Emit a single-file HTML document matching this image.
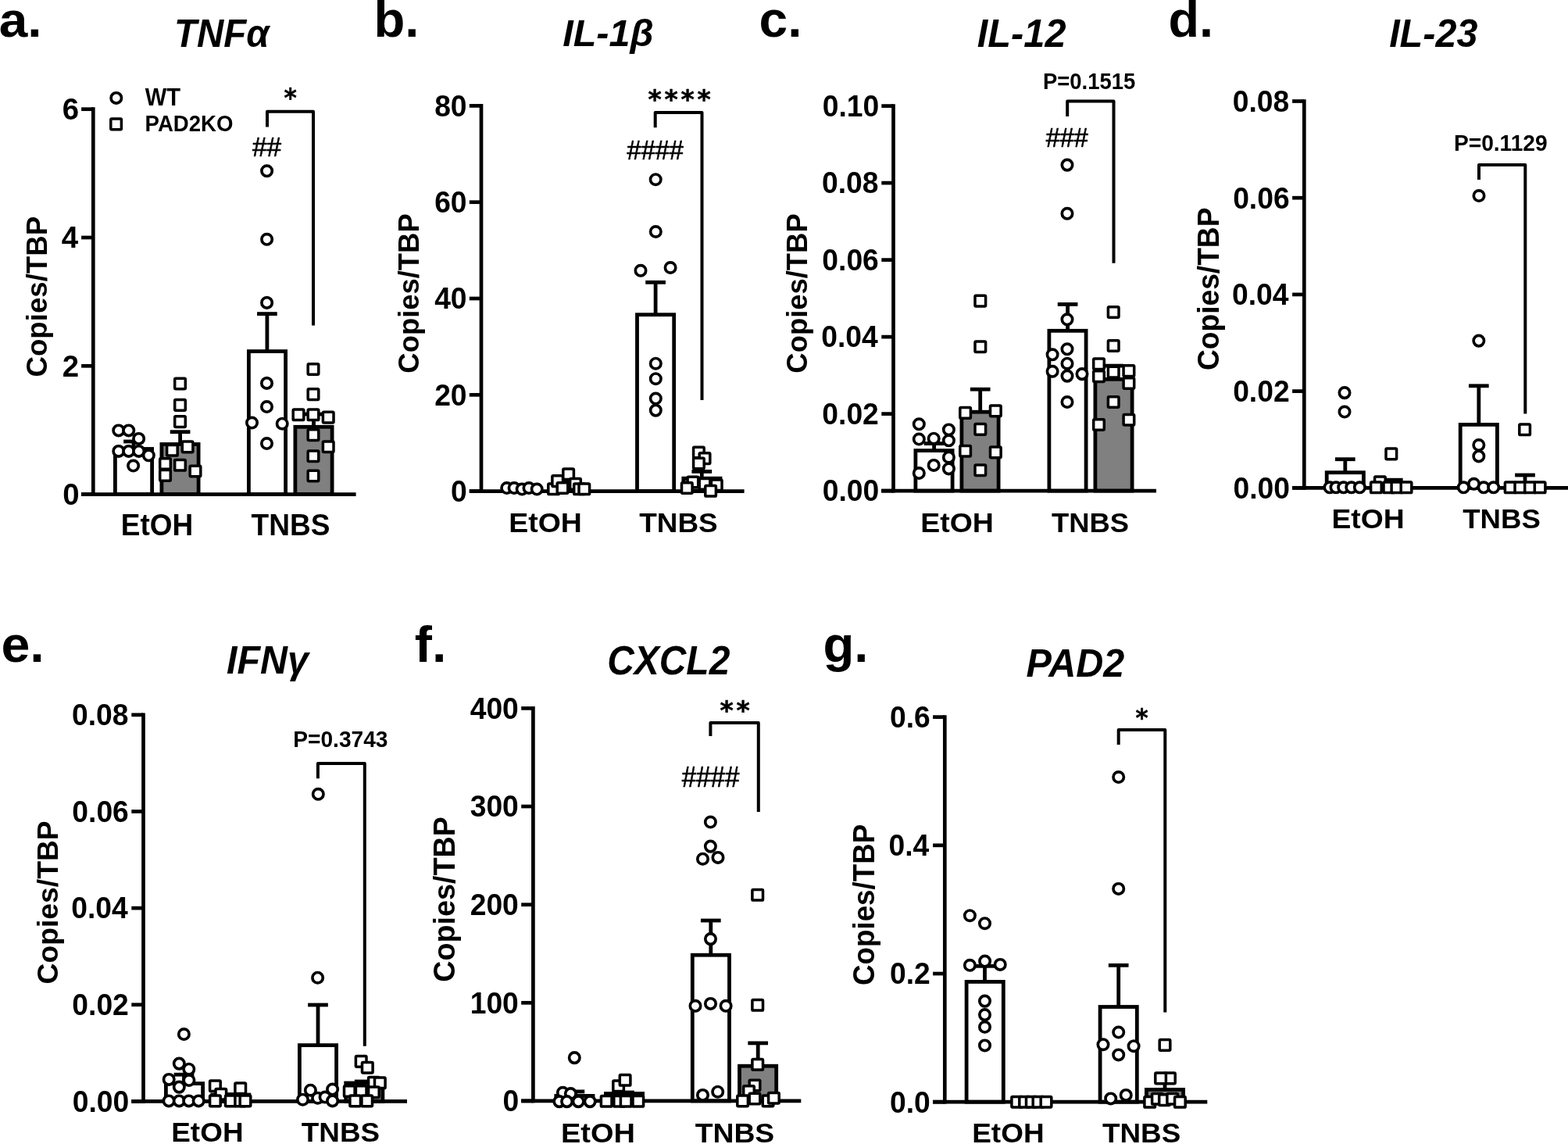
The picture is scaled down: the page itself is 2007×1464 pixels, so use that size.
<!DOCTYPE html>
<html><head><meta charset="utf-8"><title>Cytokine expression</title>
<style>html,body{margin:0;padding:0;background:#fff;}svg{display:block}</style></head>
<body><svg xmlns="http://www.w3.org/2000/svg" width="2007" height="1464" viewBox="0 0 2007 1464">
<rect width="2007" height="1464" fill="#fff"/>
<rect x="147.40" y="574.50" width="47.20" height="58.10" fill="#fff" stroke="#000" stroke-width="4.8"/>
<rect x="206.90" y="568.50" width="47.20" height="64.10" fill="#808080" stroke="#000" stroke-width="4.8"/>
<rect x="318.40" y="449.60" width="47.20" height="183.00" fill="#fff" stroke="#000" stroke-width="4.8"/>
<rect x="377.90" y="546.30" width="47.20" height="86.30" fill="#808080" stroke="#000" stroke-width="4.8"/>
<line x1="171.00" y1="574.50" x2="171.00" y2="565.00" stroke="#000" stroke-width="4.8" stroke-linecap="butt"/>
<line x1="158.15" y1="565.00" x2="183.85" y2="565.00" stroke="#000" stroke-width="4.8" stroke-linecap="butt"/>
<line x1="230.60" y1="568.50" x2="230.60" y2="552.70" stroke="#000" stroke-width="4.8" stroke-linecap="butt"/>
<line x1="217.75" y1="552.70" x2="243.45" y2="552.70" stroke="#000" stroke-width="4.8" stroke-linecap="butt"/>
<line x1="341.90" y1="449.60" x2="341.90" y2="401.60" stroke="#000" stroke-width="4.8" stroke-linecap="butt"/>
<line x1="329.05" y1="401.60" x2="354.75" y2="401.60" stroke="#000" stroke-width="4.8" stroke-linecap="butt"/>
<line x1="401.50" y1="546.30" x2="401.50" y2="530.00" stroke="#000" stroke-width="4.8" stroke-linecap="butt"/>
<line x1="388.65" y1="530.00" x2="414.35" y2="530.00" stroke="#000" stroke-width="4.8" stroke-linecap="butt"/>
<line x1="119.30" y1="137.35" x2="119.30" y2="634.95" stroke="#000" stroke-width="4.7" stroke-linecap="butt"/>
<line x1="104.00" y1="632.60" x2="455.60" y2="632.60" stroke="#000" stroke-width="4.7" stroke-linecap="butt"/>
<line x1="104.10" y1="139.70" x2="119.30" y2="139.70" stroke="#000" stroke-width="4.7" stroke-linecap="butt"/>
<line x1="104.10" y1="304.00" x2="119.30" y2="304.00" stroke="#000" stroke-width="4.7" stroke-linecap="butt"/>
<line x1="104.10" y1="468.30" x2="119.30" y2="468.30" stroke="#000" stroke-width="4.7" stroke-linecap="butt"/>
<line x1="104.10" y1="632.60" x2="119.30" y2="632.60" stroke="#000" stroke-width="4.7" stroke-linecap="butt"/>
<circle cx="151.80" cy="550.90" r="6.7" fill="#fff" stroke="#000" stroke-width="3.65"/>
<circle cx="164.70" cy="550.90" r="6.7" fill="#fff" stroke="#000" stroke-width="3.65"/>
<circle cx="177.60" cy="561.40" r="6.7" fill="#fff" stroke="#000" stroke-width="3.65"/>
<circle cx="151.80" cy="577.40" r="6.7" fill="#fff" stroke="#000" stroke-width="3.65"/>
<circle cx="164.70" cy="577.40" r="6.7" fill="#fff" stroke="#000" stroke-width="3.65"/>
<circle cx="177.60" cy="577.40" r="6.7" fill="#fff" stroke="#000" stroke-width="3.65"/>
<circle cx="190.30" cy="582.80" r="6.7" fill="#fff" stroke="#000" stroke-width="3.65"/>
<circle cx="170.60" cy="596.00" r="6.7" fill="#fff" stroke="#000" stroke-width="3.65"/>
<circle cx="341.60" cy="218.80" r="6.7" fill="#fff" stroke="#000" stroke-width="3.65"/>
<circle cx="341.60" cy="306.30" r="6.7" fill="#fff" stroke="#000" stroke-width="3.65"/>
<circle cx="341.60" cy="387.40" r="6.7" fill="#fff" stroke="#000" stroke-width="3.65"/>
<circle cx="341.50" cy="490.40" r="6.7" fill="#fff" stroke="#000" stroke-width="3.65"/>
<circle cx="341.50" cy="520.50" r="6.7" fill="#fff" stroke="#000" stroke-width="3.65"/>
<circle cx="322.50" cy="541.00" r="6.7" fill="#fff" stroke="#000" stroke-width="3.65"/>
<circle cx="361.20" cy="542.20" r="6.7" fill="#fff" stroke="#000" stroke-width="3.65"/>
<circle cx="341.50" cy="567.50" r="6.7" fill="#fff" stroke="#000" stroke-width="3.65"/>
<circle cx="148.80" cy="125.40" r="6.7" fill="#fff" stroke="#000" stroke-width="3.65"/>
<rect x="223.70" y="484.20" width="13.6" height="13.6" rx="1.2" fill="#fff" stroke="#000" stroke-width="3.5"/>
<rect x="223.70" y="511.60" width="13.6" height="13.6" rx="1.2" fill="#fff" stroke="#000" stroke-width="3.5"/>
<rect x="223.70" y="532.80" width="13.6" height="13.6" rx="1.2" fill="#fff" stroke="#000" stroke-width="3.5"/>
<rect x="213.60" y="569.50" width="13.6" height="13.6" rx="1.2" fill="#fff" stroke="#000" stroke-width="3.5"/>
<rect x="233.30" y="565.10" width="13.6" height="13.6" rx="1.2" fill="#fff" stroke="#000" stroke-width="3.5"/>
<rect x="204.70" y="586.70" width="13.6" height="13.6" rx="1.2" fill="#fff" stroke="#000" stroke-width="3.5"/>
<rect x="223.70" y="588.50" width="13.6" height="13.6" rx="1.2" fill="#fff" stroke="#000" stroke-width="3.5"/>
<rect x="243.20" y="596.20" width="13.6" height="13.6" rx="1.2" fill="#fff" stroke="#000" stroke-width="3.5"/>
<rect x="204.70" y="601.60" width="13.6" height="13.6" rx="1.2" fill="#fff" stroke="#000" stroke-width="3.5"/>
<rect x="394.20" y="465.70" width="13.6" height="13.6" rx="1.2" fill="#fff" stroke="#000" stroke-width="3.5"/>
<rect x="394.20" y="497.80" width="13.6" height="13.6" rx="1.2" fill="#fff" stroke="#000" stroke-width="3.5"/>
<rect x="375.20" y="524.00" width="13.6" height="13.6" rx="1.2" fill="#fff" stroke="#000" stroke-width="3.5"/>
<rect x="394.20" y="524.00" width="13.6" height="13.6" rx="1.2" fill="#fff" stroke="#000" stroke-width="3.5"/>
<rect x="413.40" y="527.30" width="13.6" height="13.6" rx="1.2" fill="#fff" stroke="#000" stroke-width="3.5"/>
<rect x="394.20" y="549.80" width="13.6" height="13.6" rx="1.2" fill="#fff" stroke="#000" stroke-width="3.5"/>
<rect x="413.40" y="564.90" width="13.6" height="13.6" rx="1.2" fill="#fff" stroke="#000" stroke-width="3.5"/>
<rect x="394.20" y="576.90" width="13.6" height="13.6" rx="1.2" fill="#fff" stroke="#000" stroke-width="3.5"/>
<rect x="394.20" y="602.20" width="13.6" height="13.6" rx="1.2" fill="#fff" stroke="#000" stroke-width="3.5"/>
<rect x="141.80" y="152.10" width="13.6" height="13.6" rx="1.2" fill="#fff" stroke="#000" stroke-width="3.5"/>
<path d="M342.00,162.60 L342.00,142.80 L401.00,142.80 L401.00,416.60" fill="none" stroke="#000" stroke-width="4.0" stroke-linejoin="round"/>
<rect x="644.50" y="625.00" width="47.20" height="3.60" fill="#fff" stroke="#000" stroke-width="4.8"/>
<rect x="703.80" y="621.00" width="47.20" height="7.60" fill="#808080" stroke="#000" stroke-width="4.8"/>
<rect x="815.50" y="402.70" width="47.20" height="225.90" fill="#fff" stroke="#000" stroke-width="4.8"/>
<rect x="874.80" y="612.20" width="47.20" height="16.40" fill="#808080" stroke="#000" stroke-width="4.8"/>
<line x1="668.50" y1="625.00" x2="668.50" y2="621.00" stroke="#000" stroke-width="4.8" stroke-linecap="butt"/>
<line x1="655.65" y1="621.00" x2="681.35" y2="621.00" stroke="#000" stroke-width="4.8" stroke-linecap="butt"/>
<line x1="727.80" y1="622.00" x2="727.80" y2="615.00" stroke="#000" stroke-width="4.8" stroke-linecap="butt"/>
<line x1="714.95" y1="615.00" x2="740.65" y2="615.00" stroke="#000" stroke-width="4.8" stroke-linecap="butt"/>
<line x1="839.10" y1="402.70" x2="839.10" y2="361.30" stroke="#000" stroke-width="4.8" stroke-linecap="butt"/>
<line x1="826.25" y1="361.30" x2="851.95" y2="361.30" stroke="#000" stroke-width="4.8" stroke-linecap="butt"/>
<line x1="898.30" y1="612.20" x2="898.30" y2="603.40" stroke="#000" stroke-width="4.8" stroke-linecap="butt"/>
<line x1="885.45" y1="603.40" x2="911.15" y2="603.40" stroke="#000" stroke-width="4.8" stroke-linecap="butt"/>
<line x1="616.00" y1="133.05" x2="616.00" y2="630.95" stroke="#000" stroke-width="4.7" stroke-linecap="butt"/>
<line x1="600.80" y1="628.60" x2="952.60" y2="628.60" stroke="#000" stroke-width="4.7" stroke-linecap="butt"/>
<line x1="600.80" y1="135.40" x2="616.00" y2="135.40" stroke="#000" stroke-width="4.7" stroke-linecap="butt"/>
<line x1="600.80" y1="258.70" x2="616.00" y2="258.70" stroke="#000" stroke-width="4.7" stroke-linecap="butt"/>
<line x1="600.80" y1="382.00" x2="616.00" y2="382.00" stroke="#000" stroke-width="4.7" stroke-linecap="butt"/>
<line x1="600.80" y1="505.30" x2="616.00" y2="505.30" stroke="#000" stroke-width="4.7" stroke-linecap="butt"/>
<line x1="600.80" y1="628.60" x2="616.00" y2="628.60" stroke="#000" stroke-width="4.7" stroke-linecap="butt"/>
<circle cx="648.70" cy="624.50" r="6.7" fill="#fff" stroke="#000" stroke-width="3.65"/>
<circle cx="658.10" cy="624.50" r="6.7" fill="#fff" stroke="#000" stroke-width="3.65"/>
<circle cx="668.20" cy="626.00" r="6.7" fill="#fff" stroke="#000" stroke-width="3.65"/>
<circle cx="677.00" cy="624.50" r="6.7" fill="#fff" stroke="#000" stroke-width="3.65"/>
<circle cx="687.20" cy="626.00" r="6.7" fill="#fff" stroke="#000" stroke-width="3.65"/>
<circle cx="839.20" cy="229.70" r="6.7" fill="#fff" stroke="#000" stroke-width="3.65"/>
<circle cx="839.30" cy="296.50" r="6.7" fill="#fff" stroke="#000" stroke-width="3.65"/>
<circle cx="820.00" cy="346.30" r="6.7" fill="#fff" stroke="#000" stroke-width="3.65"/>
<circle cx="858.10" cy="342.50" r="6.7" fill="#fff" stroke="#000" stroke-width="3.65"/>
<circle cx="839.30" cy="465.20" r="6.7" fill="#fff" stroke="#000" stroke-width="3.65"/>
<circle cx="839.30" cy="484.70" r="6.7" fill="#fff" stroke="#000" stroke-width="3.65"/>
<circle cx="839.30" cy="510.00" r="6.7" fill="#fff" stroke="#000" stroke-width="3.65"/>
<circle cx="839.30" cy="525.10" r="6.7" fill="#fff" stroke="#000" stroke-width="3.65"/>
<rect x="701.80" y="619.00" width="13.6" height="13.6" rx="1.2" fill="#fff" stroke="#000" stroke-width="3.5"/>
<rect x="706.90" y="608.80" width="13.6" height="13.6" rx="1.2" fill="#fff" stroke="#000" stroke-width="3.5"/>
<rect x="720.80" y="600.00" width="13.6" height="13.6" rx="1.2" fill="#fff" stroke="#000" stroke-width="3.5"/>
<rect x="713.20" y="617.70" width="13.6" height="13.6" rx="1.2" fill="#fff" stroke="#000" stroke-width="3.5"/>
<rect x="729.70" y="612.60" width="13.6" height="13.6" rx="1.2" fill="#fff" stroke="#000" stroke-width="3.5"/>
<rect x="734.70" y="619.00" width="13.6" height="13.6" rx="1.2" fill="#fff" stroke="#000" stroke-width="3.5"/>
<rect x="741.00" y="619.00" width="13.6" height="13.6" rx="1.2" fill="#fff" stroke="#000" stroke-width="3.5"/>
<rect x="887.60" y="572.20" width="13.6" height="13.6" rx="1.2" fill="#fff" stroke="#000" stroke-width="3.5"/>
<rect x="895.20" y="579.80" width="13.6" height="13.6" rx="1.2" fill="#fff" stroke="#000" stroke-width="3.5"/>
<rect x="887.60" y="586.20" width="13.6" height="13.6" rx="1.2" fill="#fff" stroke="#000" stroke-width="3.5"/>
<rect x="880.10" y="610.20" width="13.6" height="13.6" rx="1.2" fill="#fff" stroke="#000" stroke-width="3.5"/>
<rect x="872.50" y="617.70" width="13.6" height="13.6" rx="1.2" fill="#fff" stroke="#000" stroke-width="3.5"/>
<rect x="895.20" y="612.60" width="13.6" height="13.6" rx="1.2" fill="#fff" stroke="#000" stroke-width="3.5"/>
<rect x="910.40" y="613.90" width="13.6" height="13.6" rx="1.2" fill="#fff" stroke="#000" stroke-width="3.5"/>
<rect x="902.80" y="621.50" width="13.6" height="13.6" rx="1.2" fill="#fff" stroke="#000" stroke-width="3.5"/>
<path d="M838.70,163.20 L838.70,144.00 L898.50,144.00 L898.50,512.00" fill="none" stroke="#000" stroke-width="4.0" stroke-linejoin="round"/>
<rect x="1171.90" y="576.60" width="47.20" height="51.50" fill="#fff" stroke="#000" stroke-width="4.8"/>
<rect x="1230.90" y="527.20" width="47.20" height="100.90" fill="#808080" stroke="#000" stroke-width="4.8"/>
<rect x="1342.90" y="423.30" width="47.20" height="204.80" fill="#fff" stroke="#000" stroke-width="4.8"/>
<rect x="1401.90" y="485.30" width="47.20" height="142.80" fill="#808080" stroke="#000" stroke-width="4.8"/>
<line x1="1195.60" y1="576.60" x2="1195.60" y2="567.60" stroke="#000" stroke-width="4.8" stroke-linecap="butt"/>
<line x1="1182.75" y1="567.60" x2="1208.45" y2="567.60" stroke="#000" stroke-width="4.8" stroke-linecap="butt"/>
<line x1="1254.70" y1="527.20" x2="1254.70" y2="498.20" stroke="#000" stroke-width="4.8" stroke-linecap="butt"/>
<line x1="1241.85" y1="498.20" x2="1267.55" y2="498.20" stroke="#000" stroke-width="4.8" stroke-linecap="butt"/>
<line x1="1366.60" y1="424.60" x2="1366.60" y2="389.40" stroke="#000" stroke-width="4.8" stroke-linecap="butt"/>
<line x1="1353.75" y1="389.40" x2="1379.45" y2="389.40" stroke="#000" stroke-width="4.8" stroke-linecap="butt"/>
<line x1="1425.40" y1="485.30" x2="1425.40" y2="468.10" stroke="#000" stroke-width="4.8" stroke-linecap="butt"/>
<line x1="1412.55" y1="468.10" x2="1438.25" y2="468.10" stroke="#000" stroke-width="4.8" stroke-linecap="butt"/>
<line x1="1143.50" y1="133.25" x2="1143.50" y2="630.45" stroke="#000" stroke-width="4.7" stroke-linecap="butt"/>
<line x1="1128.10" y1="628.10" x2="1480.00" y2="628.10" stroke="#000" stroke-width="4.7" stroke-linecap="butt"/>
<line x1="1128.30" y1="135.60" x2="1143.50" y2="135.60" stroke="#000" stroke-width="4.7" stroke-linecap="butt"/>
<line x1="1128.30" y1="234.10" x2="1143.50" y2="234.10" stroke="#000" stroke-width="4.7" stroke-linecap="butt"/>
<line x1="1128.30" y1="332.60" x2="1143.50" y2="332.60" stroke="#000" stroke-width="4.7" stroke-linecap="butt"/>
<line x1="1128.30" y1="431.10" x2="1143.50" y2="431.10" stroke="#000" stroke-width="4.7" stroke-linecap="butt"/>
<line x1="1128.30" y1="529.60" x2="1143.50" y2="529.60" stroke="#000" stroke-width="4.7" stroke-linecap="butt"/>
<line x1="1128.30" y1="628.10" x2="1143.50" y2="628.10" stroke="#000" stroke-width="4.7" stroke-linecap="butt"/>
<circle cx="1176.30" cy="542.80" r="6.7" fill="#fff" stroke="#000" stroke-width="3.65"/>
<circle cx="1214.40" cy="549.90" r="6.7" fill="#fff" stroke="#000" stroke-width="3.65"/>
<circle cx="1176.30" cy="562.00" r="6.7" fill="#fff" stroke="#000" stroke-width="3.65"/>
<circle cx="1195.20" cy="561.20" r="6.7" fill="#fff" stroke="#000" stroke-width="3.65"/>
<circle cx="1214.40" cy="563.80" r="6.7" fill="#fff" stroke="#000" stroke-width="3.65"/>
<circle cx="1214.40" cy="585.20" r="6.7" fill="#fff" stroke="#000" stroke-width="3.65"/>
<circle cx="1195.20" cy="595.40" r="6.7" fill="#fff" stroke="#000" stroke-width="3.65"/>
<circle cx="1214.40" cy="599.90" r="6.7" fill="#fff" stroke="#000" stroke-width="3.65"/>
<circle cx="1176.30" cy="605.50" r="6.7" fill="#fff" stroke="#000" stroke-width="3.65"/>
<circle cx="1366.00" cy="211.10" r="6.7" fill="#fff" stroke="#000" stroke-width="3.65"/>
<circle cx="1366.00" cy="273.30" r="6.7" fill="#fff" stroke="#000" stroke-width="3.65"/>
<circle cx="1366.00" cy="408.80" r="6.7" fill="#fff" stroke="#000" stroke-width="3.65"/>
<circle cx="1366.00" cy="446.80" r="6.7" fill="#fff" stroke="#000" stroke-width="3.65"/>
<circle cx="1347.10" cy="453.80" r="6.7" fill="#fff" stroke="#000" stroke-width="3.65"/>
<circle cx="1366.00" cy="465.20" r="6.7" fill="#fff" stroke="#000" stroke-width="3.65"/>
<circle cx="1347.10" cy="475.30" r="6.7" fill="#fff" stroke="#000" stroke-width="3.65"/>
<circle cx="1366.00" cy="481.10" r="6.7" fill="#fff" stroke="#000" stroke-width="3.65"/>
<circle cx="1385.00" cy="478.60" r="6.7" fill="#fff" stroke="#000" stroke-width="3.65"/>
<circle cx="1366.00" cy="514.50" r="6.7" fill="#fff" stroke="#000" stroke-width="3.65"/>
<rect x="1248.00" y="378.30" width="13.6" height="13.6" rx="1.2" fill="#fff" stroke="#000" stroke-width="3.5"/>
<rect x="1248.00" y="436.90" width="13.6" height="13.6" rx="1.2" fill="#fff" stroke="#000" stroke-width="3.5"/>
<rect x="1228.80" y="521.60" width="13.6" height="13.6" rx="1.2" fill="#fff" stroke="#000" stroke-width="3.5"/>
<rect x="1267.50" y="519.10" width="13.6" height="13.6" rx="1.2" fill="#fff" stroke="#000" stroke-width="3.5"/>
<rect x="1248.00" y="542.60" width="13.6" height="13.6" rx="1.2" fill="#fff" stroke="#000" stroke-width="3.5"/>
<rect x="1228.80" y="570.40" width="13.6" height="13.6" rx="1.2" fill="#fff" stroke="#000" stroke-width="3.5"/>
<rect x="1267.50" y="572.10" width="13.6" height="13.6" rx="1.2" fill="#fff" stroke="#000" stroke-width="3.5"/>
<rect x="1248.00" y="594.90" width="13.6" height="13.6" rx="1.2" fill="#fff" stroke="#000" stroke-width="3.5"/>
<rect x="1418.40" y="392.70" width="13.6" height="13.6" rx="1.2" fill="#fff" stroke="#000" stroke-width="3.5"/>
<rect x="1418.40" y="435.70" width="13.6" height="13.6" rx="1.2" fill="#fff" stroke="#000" stroke-width="3.5"/>
<rect x="1399.70" y="458.90" width="13.6" height="13.6" rx="1.2" fill="#fff" stroke="#000" stroke-width="3.5"/>
<rect x="1418.40" y="469.30" width="13.6" height="13.6" rx="1.2" fill="#fff" stroke="#000" stroke-width="3.5"/>
<rect x="1399.70" y="474.80" width="13.6" height="13.6" rx="1.2" fill="#fff" stroke="#000" stroke-width="3.5"/>
<rect x="1438.10" y="467.80" width="13.6" height="13.6" rx="1.2" fill="#fff" stroke="#000" stroke-width="3.5"/>
<rect x="1438.10" y="483.70" width="13.6" height="13.6" rx="1.2" fill="#fff" stroke="#000" stroke-width="3.5"/>
<rect x="1418.40" y="507.70" width="13.6" height="13.6" rx="1.2" fill="#fff" stroke="#000" stroke-width="3.5"/>
<rect x="1438.10" y="530.40" width="13.6" height="13.6" rx="1.2" fill="#fff" stroke="#000" stroke-width="3.5"/>
<rect x="1399.70" y="536.70" width="13.6" height="13.6" rx="1.2" fill="#fff" stroke="#000" stroke-width="3.5"/>
<path d="M1366.20,149.00 L1366.20,129.50 L1425.50,129.50 L1425.50,336.80" fill="none" stroke="#000" stroke-width="4.0" stroke-linejoin="round"/>
<rect x="1698.20" y="604.70" width="47.20" height="19.60" fill="#fff" stroke="#000" stroke-width="4.8"/>
<rect x="1757.50" y="618.00" width="47.20" height="6.30" fill="#808080" stroke="#000" stroke-width="4.8"/>
<rect x="1869.20" y="543.40" width="47.20" height="80.90" fill="#fff" stroke="#000" stroke-width="4.8"/>
<rect x="1928.50" y="619.00" width="47.20" height="5.30" fill="#808080" stroke="#000" stroke-width="4.8"/>
<line x1="1721.80" y1="604.70" x2="1721.80" y2="587.70" stroke="#000" stroke-width="4.8" stroke-linecap="butt"/>
<line x1="1708.95" y1="587.70" x2="1734.65" y2="587.70" stroke="#000" stroke-width="4.8" stroke-linecap="butt"/>
<line x1="1782.80" y1="618.00" x2="1782.80" y2="614.20" stroke="#000" stroke-width="4.8" stroke-linecap="butt"/>
<line x1="1769.95" y1="614.20" x2="1795.65" y2="614.20" stroke="#000" stroke-width="4.8" stroke-linecap="butt"/>
<line x1="1892.80" y1="543.40" x2="1892.80" y2="493.80" stroke="#000" stroke-width="4.8" stroke-linecap="butt"/>
<line x1="1879.95" y1="493.80" x2="1905.65" y2="493.80" stroke="#000" stroke-width="4.8" stroke-linecap="butt"/>
<line x1="1952.00" y1="619.00" x2="1952.00" y2="608.00" stroke="#000" stroke-width="4.8" stroke-linecap="butt"/>
<line x1="1939.15" y1="608.00" x2="1964.85" y2="608.00" stroke="#000" stroke-width="4.8" stroke-linecap="butt"/>
<line x1="1669.30" y1="127.15" x2="1669.30" y2="626.65" stroke="#000" stroke-width="4.7" stroke-linecap="butt"/>
<line x1="1654.10" y1="624.30" x2="2007.00" y2="624.30" stroke="#000" stroke-width="4.7" stroke-linecap="butt"/>
<line x1="1654.10" y1="129.50" x2="1669.30" y2="129.50" stroke="#000" stroke-width="4.7" stroke-linecap="butt"/>
<line x1="1654.10" y1="253.20" x2="1669.30" y2="253.20" stroke="#000" stroke-width="4.7" stroke-linecap="butt"/>
<line x1="1654.10" y1="376.90" x2="1669.30" y2="376.90" stroke="#000" stroke-width="4.7" stroke-linecap="butt"/>
<line x1="1654.10" y1="500.60" x2="1669.30" y2="500.60" stroke="#000" stroke-width="4.7" stroke-linecap="butt"/>
<line x1="1654.10" y1="624.30" x2="1669.30" y2="624.30" stroke="#000" stroke-width="4.7" stroke-linecap="butt"/>
<circle cx="1721.00" cy="502.60" r="6.7" fill="#fff" stroke="#000" stroke-width="3.65"/>
<circle cx="1721.00" cy="527.00" r="6.7" fill="#fff" stroke="#000" stroke-width="3.65"/>
<circle cx="1702.00" cy="623.80" r="6.7" fill="#fff" stroke="#000" stroke-width="3.65"/>
<circle cx="1710.00" cy="623.80" r="6.7" fill="#fff" stroke="#000" stroke-width="3.65"/>
<circle cx="1719.70" cy="623.80" r="6.7" fill="#fff" stroke="#000" stroke-width="3.65"/>
<circle cx="1729.80" cy="623.80" r="6.7" fill="#fff" stroke="#000" stroke-width="3.65"/>
<circle cx="1740.40" cy="623.80" r="6.7" fill="#fff" stroke="#000" stroke-width="3.65"/>
<circle cx="1893.00" cy="250.50" r="6.7" fill="#fff" stroke="#000" stroke-width="3.65"/>
<circle cx="1892.80" cy="436.10" r="6.7" fill="#fff" stroke="#000" stroke-width="3.65"/>
<circle cx="1892.80" cy="569.50" r="6.7" fill="#fff" stroke="#000" stroke-width="3.65"/>
<circle cx="1892.80" cy="583.90" r="6.7" fill="#fff" stroke="#000" stroke-width="3.65"/>
<circle cx="1873.30" cy="623.80" r="6.7" fill="#fff" stroke="#000" stroke-width="3.65"/>
<circle cx="1886.50" cy="619.30" r="6.7" fill="#fff" stroke="#000" stroke-width="3.65"/>
<circle cx="1899.10" cy="623.80" r="6.7" fill="#fff" stroke="#000" stroke-width="3.65"/>
<circle cx="1911.70" cy="623.80" r="6.7" fill="#fff" stroke="#000" stroke-width="3.65"/>
<rect x="1774.00" y="574.10" width="13.6" height="13.6" rx="1.2" fill="#fff" stroke="#000" stroke-width="3.5"/>
<rect x="1759.60" y="610.00" width="13.6" height="13.6" rx="1.2" fill="#fff" stroke="#000" stroke-width="3.5"/>
<rect x="1754.60" y="617.00" width="13.6" height="13.6" rx="1.2" fill="#fff" stroke="#000" stroke-width="3.5"/>
<rect x="1771.00" y="617.00" width="13.6" height="13.6" rx="1.2" fill="#fff" stroke="#000" stroke-width="3.5"/>
<rect x="1781.10" y="617.00" width="13.6" height="13.6" rx="1.2" fill="#fff" stroke="#000" stroke-width="3.5"/>
<rect x="1793.20" y="617.00" width="13.6" height="13.6" rx="1.2" fill="#fff" stroke="#000" stroke-width="3.5"/>
<rect x="1944.80" y="543.00" width="13.6" height="13.6" rx="1.2" fill="#fff" stroke="#000" stroke-width="3.5"/>
<rect x="1926.40" y="617.00" width="13.6" height="13.6" rx="1.2" fill="#fff" stroke="#000" stroke-width="3.5"/>
<rect x="1939.00" y="617.00" width="13.6" height="13.6" rx="1.2" fill="#fff" stroke="#000" stroke-width="3.5"/>
<rect x="1951.70" y="617.00" width="13.6" height="13.6" rx="1.2" fill="#fff" stroke="#000" stroke-width="3.5"/>
<rect x="1964.30" y="617.00" width="13.6" height="13.6" rx="1.2" fill="#fff" stroke="#000" stroke-width="3.5"/>
<path d="M1893.00,230.00 L1893.00,211.10 L1952.30,211.10 L1952.30,529.60" fill="none" stroke="#000" stroke-width="4.0" stroke-linejoin="round"/>
<rect x="212.40" y="1386.60" width="47.20" height="22.80" fill="#fff" stroke="#000" stroke-width="4.8"/>
<rect x="271.70" y="1401.00" width="47.20" height="8.40" fill="#808080" stroke="#000" stroke-width="4.8"/>
<rect x="383.40" y="1337.60" width="47.20" height="71.80" fill="#fff" stroke="#000" stroke-width="4.8"/>
<rect x="442.70" y="1386.00" width="47.20" height="23.40" fill="#808080" stroke="#000" stroke-width="4.8"/>
<line x1="235.50" y1="1386.60" x2="235.50" y2="1375.20" stroke="#000" stroke-width="4.8" stroke-linecap="butt"/>
<line x1="222.65" y1="1375.20" x2="248.35" y2="1375.20" stroke="#000" stroke-width="4.8" stroke-linecap="butt"/>
<line x1="295.20" y1="1401.00" x2="295.20" y2="1400.50" stroke="#000" stroke-width="4.8" stroke-linecap="butt"/>
<line x1="282.35" y1="1400.50" x2="308.05" y2="1400.50" stroke="#000" stroke-width="4.8" stroke-linecap="butt"/>
<line x1="407.00" y1="1337.60" x2="407.00" y2="1286.00" stroke="#000" stroke-width="4.8" stroke-linecap="butt"/>
<line x1="394.15" y1="1286.00" x2="419.85" y2="1286.00" stroke="#000" stroke-width="4.8" stroke-linecap="butt"/>
<line x1="466.70" y1="1386.00" x2="466.70" y2="1384.00" stroke="#000" stroke-width="4.8" stroke-linecap="butt"/>
<line x1="453.85" y1="1384.00" x2="479.55" y2="1384.00" stroke="#000" stroke-width="4.8" stroke-linecap="butt"/>
<line x1="183.50" y1="912.45" x2="183.50" y2="1411.75" stroke="#000" stroke-width="4.7" stroke-linecap="butt"/>
<line x1="168.30" y1="1409.40" x2="521.00" y2="1409.40" stroke="#000" stroke-width="4.7" stroke-linecap="butt"/>
<line x1="168.30" y1="914.80" x2="183.50" y2="914.80" stroke="#000" stroke-width="4.7" stroke-linecap="butt"/>
<line x1="168.30" y1="1038.45" x2="183.50" y2="1038.45" stroke="#000" stroke-width="4.7" stroke-linecap="butt"/>
<line x1="168.30" y1="1162.10" x2="183.50" y2="1162.10" stroke="#000" stroke-width="4.7" stroke-linecap="butt"/>
<line x1="168.30" y1="1285.75" x2="183.50" y2="1285.75" stroke="#000" stroke-width="4.7" stroke-linecap="butt"/>
<line x1="168.30" y1="1409.40" x2="183.50" y2="1409.40" stroke="#000" stroke-width="4.7" stroke-linecap="butt"/>
<circle cx="235.40" cy="1323.50" r="6.7" fill="#fff" stroke="#000" stroke-width="3.65"/>
<circle cx="229.30" cy="1361.10" r="6.7" fill="#fff" stroke="#000" stroke-width="3.65"/>
<circle cx="241.80" cy="1368.20" r="6.7" fill="#fff" stroke="#000" stroke-width="3.65"/>
<circle cx="216.20" cy="1381.40" r="6.7" fill="#fff" stroke="#000" stroke-width="3.65"/>
<circle cx="241.90" cy="1382.50" r="6.7" fill="#fff" stroke="#000" stroke-width="3.65"/>
<circle cx="229.30" cy="1391.10" r="6.7" fill="#fff" stroke="#000" stroke-width="3.65"/>
<circle cx="216.10" cy="1408.90" r="6.7" fill="#fff" stroke="#000" stroke-width="3.65"/>
<circle cx="229.30" cy="1408.90" r="6.7" fill="#fff" stroke="#000" stroke-width="3.65"/>
<circle cx="241.70" cy="1408.90" r="6.7" fill="#fff" stroke="#000" stroke-width="3.65"/>
<circle cx="254.20" cy="1408.90" r="6.7" fill="#fff" stroke="#000" stroke-width="3.65"/>
<circle cx="407.30" cy="1016.30" r="6.7" fill="#fff" stroke="#000" stroke-width="3.65"/>
<circle cx="406.60" cy="1251.20" r="6.7" fill="#fff" stroke="#000" stroke-width="3.65"/>
<circle cx="397.40" cy="1395.20" r="6.7" fill="#fff" stroke="#000" stroke-width="3.65"/>
<circle cx="425.60" cy="1394.00" r="6.7" fill="#fff" stroke="#000" stroke-width="3.65"/>
<circle cx="387.50" cy="1407.20" r="6.7" fill="#fff" stroke="#000" stroke-width="3.65"/>
<circle cx="406.60" cy="1405.20" r="6.7" fill="#fff" stroke="#000" stroke-width="3.65"/>
<circle cx="416.10" cy="1404.00" r="6.7" fill="#fff" stroke="#000" stroke-width="3.65"/>
<circle cx="425.60" cy="1408.90" r="6.7" fill="#fff" stroke="#000" stroke-width="3.65"/>
<rect x="268.60" y="1382.90" width="13.6" height="13.6" rx="1.2" fill="#fff" stroke="#000" stroke-width="3.5"/>
<rect x="276.00" y="1393.40" width="13.6" height="13.6" rx="1.2" fill="#fff" stroke="#000" stroke-width="3.5"/>
<rect x="300.90" y="1385.90" width="13.6" height="13.6" rx="1.2" fill="#fff" stroke="#000" stroke-width="3.5"/>
<rect x="268.60" y="1402.10" width="13.6" height="13.6" rx="1.2" fill="#fff" stroke="#000" stroke-width="3.5"/>
<rect x="288.50" y="1402.10" width="13.6" height="13.6" rx="1.2" fill="#fff" stroke="#000" stroke-width="3.5"/>
<rect x="300.90" y="1402.10" width="13.6" height="13.6" rx="1.2" fill="#fff" stroke="#000" stroke-width="3.5"/>
<rect x="307.20" y="1402.10" width="13.6" height="13.6" rx="1.2" fill="#fff" stroke="#000" stroke-width="3.5"/>
<rect x="455.40" y="1351.60" width="13.6" height="13.6" rx="1.2" fill="#fff" stroke="#000" stroke-width="3.5"/>
<rect x="463.50" y="1359.40" width="13.6" height="13.6" rx="1.2" fill="#fff" stroke="#000" stroke-width="3.5"/>
<rect x="471.60" y="1378.40" width="13.6" height="13.6" rx="1.2" fill="#fff" stroke="#000" stroke-width="3.5"/>
<rect x="479.50" y="1379.00" width="13.6" height="13.6" rx="1.2" fill="#fff" stroke="#000" stroke-width="3.5"/>
<rect x="440.50" y="1389.70" width="13.6" height="13.6" rx="1.2" fill="#fff" stroke="#000" stroke-width="3.5"/>
<rect x="455.40" y="1389.70" width="13.6" height="13.6" rx="1.2" fill="#fff" stroke="#000" stroke-width="3.5"/>
<rect x="471.60" y="1390.90" width="13.6" height="13.6" rx="1.2" fill="#fff" stroke="#000" stroke-width="3.5"/>
<rect x="447.90" y="1402.10" width="13.6" height="13.6" rx="1.2" fill="#fff" stroke="#000" stroke-width="3.5"/>
<rect x="462.90" y="1402.10" width="13.6" height="13.6" rx="1.2" fill="#fff" stroke="#000" stroke-width="3.5"/>
<path d="M406.90,996.30 L406.90,976.90 L466.80,976.90 L466.80,1338.80" fill="none" stroke="#000" stroke-width="4.0" stroke-linejoin="round"/>
<rect x="711.80" y="1402.40" width="47.20" height="6.50" fill="#fff" stroke="#000" stroke-width="4.8"/>
<rect x="775.40" y="1399.50" width="47.20" height="9.40" fill="#808080" stroke="#000" stroke-width="4.8"/>
<rect x="886.30" y="1222.20" width="47.20" height="186.70" fill="#fff" stroke="#000" stroke-width="4.8"/>
<rect x="946.50" y="1364.20" width="47.20" height="44.70" fill="#808080" stroke="#000" stroke-width="4.8"/>
<line x1="735.40" y1="1402.40" x2="735.40" y2="1396.90" stroke="#000" stroke-width="4.8" stroke-linecap="butt"/>
<line x1="722.55" y1="1396.90" x2="748.25" y2="1396.90" stroke="#000" stroke-width="4.8" stroke-linecap="butt"/>
<line x1="799.00" y1="1399.50" x2="799.00" y2="1398.00" stroke="#000" stroke-width="4.8" stroke-linecap="butt"/>
<line x1="786.15" y1="1398.00" x2="811.85" y2="1398.00" stroke="#000" stroke-width="4.8" stroke-linecap="butt"/>
<line x1="909.80" y1="1222.20" x2="909.80" y2="1178.00" stroke="#000" stroke-width="4.8" stroke-linecap="butt"/>
<line x1="896.95" y1="1178.00" x2="922.65" y2="1178.00" stroke="#000" stroke-width="4.8" stroke-linecap="butt"/>
<line x1="970.20" y1="1364.20" x2="970.20" y2="1334.90" stroke="#000" stroke-width="4.8" stroke-linecap="butt"/>
<line x1="957.35" y1="1334.90" x2="983.05" y2="1334.90" stroke="#000" stroke-width="4.8" stroke-linecap="butt"/>
<line x1="682.40" y1="904.05" x2="682.40" y2="1411.25" stroke="#000" stroke-width="4.7" stroke-linecap="butt"/>
<line x1="667.20" y1="1408.90" x2="1025.30" y2="1408.90" stroke="#000" stroke-width="4.7" stroke-linecap="butt"/>
<line x1="667.20" y1="906.40" x2="682.40" y2="906.40" stroke="#000" stroke-width="4.7" stroke-linecap="butt"/>
<line x1="667.20" y1="1032.00" x2="682.40" y2="1032.00" stroke="#000" stroke-width="4.7" stroke-linecap="butt"/>
<line x1="667.20" y1="1157.70" x2="682.40" y2="1157.70" stroke="#000" stroke-width="4.7" stroke-linecap="butt"/>
<line x1="667.20" y1="1283.30" x2="682.40" y2="1283.30" stroke="#000" stroke-width="4.7" stroke-linecap="butt"/>
<line x1="667.20" y1="1408.90" x2="682.40" y2="1408.90" stroke="#000" stroke-width="4.7" stroke-linecap="butt"/>
<circle cx="735.30" cy="1353.60" r="6.7" fill="#fff" stroke="#000" stroke-width="3.65"/>
<circle cx="720.40" cy="1398.30" r="6.7" fill="#fff" stroke="#000" stroke-width="3.65"/>
<circle cx="730.40" cy="1399.60" r="6.7" fill="#fff" stroke="#000" stroke-width="3.65"/>
<circle cx="715.90" cy="1409.60" r="6.7" fill="#fff" stroke="#000" stroke-width="3.65"/>
<circle cx="725.60" cy="1409.60" r="6.7" fill="#fff" stroke="#000" stroke-width="3.65"/>
<circle cx="740.20" cy="1409.60" r="6.7" fill="#fff" stroke="#000" stroke-width="3.65"/>
<circle cx="755.10" cy="1409.60" r="6.7" fill="#fff" stroke="#000" stroke-width="3.65"/>
<circle cx="909.40" cy="1052.00" r="6.7" fill="#fff" stroke="#000" stroke-width="3.65"/>
<circle cx="909.40" cy="1083.10" r="6.7" fill="#fff" stroke="#000" stroke-width="3.65"/>
<circle cx="899.50" cy="1099.20" r="6.7" fill="#fff" stroke="#000" stroke-width="3.65"/>
<circle cx="919.00" cy="1097.40" r="6.7" fill="#fff" stroke="#000" stroke-width="3.65"/>
<circle cx="909.50" cy="1201.60" r="6.7" fill="#fff" stroke="#000" stroke-width="3.65"/>
<circle cx="890.00" cy="1287.30" r="6.7" fill="#fff" stroke="#000" stroke-width="3.65"/>
<circle cx="909.50" cy="1284.40" r="6.7" fill="#fff" stroke="#000" stroke-width="3.65"/>
<circle cx="929.10" cy="1287.30" r="6.7" fill="#fff" stroke="#000" stroke-width="3.65"/>
<circle cx="899.50" cy="1401.40" r="6.7" fill="#fff" stroke="#000" stroke-width="3.65"/>
<circle cx="918.70" cy="1397.20" r="6.7" fill="#fff" stroke="#000" stroke-width="3.65"/>
<rect x="785.80" y="1402.50" width="13.6" height="13.6" rx="1.2" fill="#fff" stroke="#000" stroke-width="3.5"/>
<rect x="769.40" y="1402.50" width="13.6" height="13.6" rx="1.2" fill="#fff" stroke="#000" stroke-width="3.5"/>
<rect x="794.40" y="1402.50" width="13.6" height="13.6" rx="1.2" fill="#fff" stroke="#000" stroke-width="3.5"/>
<rect x="810.00" y="1402.50" width="13.6" height="13.6" rx="1.2" fill="#fff" stroke="#000" stroke-width="3.5"/>
<rect x="784.80" y="1383.00" width="13.6" height="13.6" rx="1.2" fill="#fff" stroke="#000" stroke-width="3.5"/>
<rect x="793.30" y="1375.50" width="13.6" height="13.6" rx="1.2" fill="#fff" stroke="#000" stroke-width="3.5"/>
<rect x="962.90" y="1138.50" width="13.6" height="13.6" rx="1.2" fill="#fff" stroke="#000" stroke-width="3.5"/>
<rect x="962.90" y="1279.50" width="13.6" height="13.6" rx="1.2" fill="#fff" stroke="#000" stroke-width="3.5"/>
<rect x="962.90" y="1355.50" width="13.6" height="13.6" rx="1.2" fill="#fff" stroke="#000" stroke-width="3.5"/>
<rect x="959.20" y="1382.20" width="13.6" height="13.6" rx="1.2" fill="#fff" stroke="#000" stroke-width="3.5"/>
<rect x="951.70" y="1389.70" width="13.6" height="13.6" rx="1.2" fill="#fff" stroke="#000" stroke-width="3.5"/>
<rect x="943.80" y="1402.10" width="13.6" height="13.6" rx="1.2" fill="#fff" stroke="#000" stroke-width="3.5"/>
<rect x="959.20" y="1399.20" width="13.6" height="13.6" rx="1.2" fill="#fff" stroke="#000" stroke-width="3.5"/>
<rect x="976.20" y="1402.10" width="13.6" height="13.6" rx="1.2" fill="#fff" stroke="#000" stroke-width="3.5"/>
<rect x="983.60" y="1398.40" width="13.6" height="13.6" rx="1.2" fill="#fff" stroke="#000" stroke-width="3.5"/>
<path d="M909.40,941.90 L909.40,925.10 L970.80,925.10 L970.80,1039.00" fill="none" stroke="#000" stroke-width="4.0" stroke-linejoin="round"/>
<rect x="1237.10" y="1256.40" width="47.20" height="153.80" fill="#fff" stroke="#000" stroke-width="4.8"/>
<rect x="1296.40" y="1410.20" width="47.20" height="0.00" fill="#808080" stroke="#000" stroke-width="4.8"/>
<rect x="1408.10" y="1288.50" width="47.20" height="121.70" fill="#fff" stroke="#000" stroke-width="4.8"/>
<rect x="1467.40" y="1394.40" width="47.20" height="15.80" fill="#808080" stroke="#000" stroke-width="4.8"/>
<line x1="1260.50" y1="1256.40" x2="1260.50" y2="1236.30" stroke="#000" stroke-width="4.8" stroke-linecap="butt"/>
<line x1="1247.65" y1="1236.30" x2="1273.35" y2="1236.30" stroke="#000" stroke-width="4.8" stroke-linecap="butt"/>
<line x1="1431.70" y1="1288.50" x2="1431.70" y2="1235.30" stroke="#000" stroke-width="4.8" stroke-linecap="butt"/>
<line x1="1418.85" y1="1235.30" x2="1444.55" y2="1235.30" stroke="#000" stroke-width="4.8" stroke-linecap="butt"/>
<line x1="1491.00" y1="1394.40" x2="1491.00" y2="1384.00" stroke="#000" stroke-width="4.8" stroke-linecap="butt"/>
<line x1="1478.15" y1="1384.00" x2="1503.85" y2="1384.00" stroke="#000" stroke-width="4.8" stroke-linecap="butt"/>
<line x1="1209.30" y1="915.25" x2="1209.30" y2="1412.55" stroke="#000" stroke-width="4.7" stroke-linecap="butt"/>
<line x1="1194.10" y1="1410.20" x2="1545.30" y2="1410.20" stroke="#000" stroke-width="4.7" stroke-linecap="butt"/>
<line x1="1194.10" y1="917.60" x2="1209.30" y2="917.60" stroke="#000" stroke-width="4.7" stroke-linecap="butt"/>
<line x1="1194.10" y1="1081.80" x2="1209.30" y2="1081.80" stroke="#000" stroke-width="4.7" stroke-linecap="butt"/>
<line x1="1194.10" y1="1246.00" x2="1209.30" y2="1246.00" stroke="#000" stroke-width="4.7" stroke-linecap="butt"/>
<line x1="1194.10" y1="1410.20" x2="1209.30" y2="1410.20" stroke="#000" stroke-width="4.7" stroke-linecap="butt"/>
<circle cx="1241.40" cy="1171.70" r="6.7" fill="#fff" stroke="#000" stroke-width="3.65"/>
<circle cx="1260.50" cy="1181.70" r="6.7" fill="#fff" stroke="#000" stroke-width="3.65"/>
<circle cx="1241.40" cy="1235.30" r="6.7" fill="#fff" stroke="#000" stroke-width="3.65"/>
<circle cx="1260.60" cy="1230.10" r="6.7" fill="#fff" stroke="#000" stroke-width="3.65"/>
<circle cx="1280.20" cy="1234.40" r="6.7" fill="#fff" stroke="#000" stroke-width="3.65"/>
<circle cx="1260.50" cy="1281.10" r="6.7" fill="#fff" stroke="#000" stroke-width="3.65"/>
<circle cx="1260.50" cy="1298.60" r="6.7" fill="#fff" stroke="#000" stroke-width="3.65"/>
<circle cx="1260.50" cy="1314.30" r="6.7" fill="#fff" stroke="#000" stroke-width="3.65"/>
<circle cx="1260.50" cy="1337.90" r="6.7" fill="#fff" stroke="#000" stroke-width="3.65"/>
<circle cx="1431.70" cy="994.50" r="6.7" fill="#fff" stroke="#000" stroke-width="3.65"/>
<circle cx="1431.70" cy="1137.40" r="6.7" fill="#fff" stroke="#000" stroke-width="3.65"/>
<circle cx="1431.70" cy="1321.00" r="6.7" fill="#fff" stroke="#000" stroke-width="3.65"/>
<circle cx="1412.00" cy="1336.70" r="6.7" fill="#fff" stroke="#000" stroke-width="3.65"/>
<circle cx="1451.10" cy="1338.70" r="6.7" fill="#fff" stroke="#000" stroke-width="3.65"/>
<circle cx="1431.70" cy="1349.90" r="6.7" fill="#fff" stroke="#000" stroke-width="3.65"/>
<circle cx="1421.70" cy="1405.90" r="6.7" fill="#fff" stroke="#000" stroke-width="3.65"/>
<circle cx="1441.20" cy="1401.40" r="6.7" fill="#fff" stroke="#000" stroke-width="3.65"/>
<rect x="1294.90" y="1403.40" width="13.6" height="13.6" rx="1.2" fill="#fff" stroke="#000" stroke-width="3.5"/>
<rect x="1304.80" y="1403.40" width="13.6" height="13.6" rx="1.2" fill="#fff" stroke="#000" stroke-width="3.5"/>
<rect x="1313.50" y="1403.40" width="13.6" height="13.6" rx="1.2" fill="#fff" stroke="#000" stroke-width="3.5"/>
<rect x="1322.20" y="1403.40" width="13.6" height="13.6" rx="1.2" fill="#fff" stroke="#000" stroke-width="3.5"/>
<rect x="1332.20" y="1403.40" width="13.6" height="13.6" rx="1.2" fill="#fff" stroke="#000" stroke-width="3.5"/>
<rect x="1484.20" y="1330.60" width="13.6" height="13.6" rx="1.2" fill="#fff" stroke="#000" stroke-width="3.5"/>
<rect x="1490.60" y="1373.10" width="13.6" height="13.6" rx="1.2" fill="#fff" stroke="#000" stroke-width="3.5"/>
<rect x="1478.80" y="1373.10" width="13.6" height="13.6" rx="1.2" fill="#fff" stroke="#000" stroke-width="3.5"/>
<rect x="1464.90" y="1403.50" width="13.6" height="13.6" rx="1.2" fill="#fff" stroke="#000" stroke-width="3.5"/>
<rect x="1474.60" y="1399.50" width="13.6" height="13.6" rx="1.2" fill="#fff" stroke="#000" stroke-width="3.5"/>
<rect x="1483.70" y="1400.80" width="13.6" height="13.6" rx="1.2" fill="#fff" stroke="#000" stroke-width="3.5"/>
<rect x="1493.90" y="1399.40" width="13.6" height="13.6" rx="1.2" fill="#fff" stroke="#000" stroke-width="3.5"/>
<rect x="1503.60" y="1403.50" width="13.6" height="13.6" rx="1.2" fill="#fff" stroke="#000" stroke-width="3.5"/>
<path d="M1431.70,953.00 L1431.70,934.10 L1491.30,934.10 L1491.30,1295.60" fill="none" stroke="#000" stroke-width="4.0" stroke-linejoin="round"/>
<text transform="translate(79.82,153.16) scale(0.9850,1)" font-family="Liberation Sans" font-weight="bold" font-style="normal" font-size="39.00">6</text>
<text transform="translate(78.67,317.45) scale(0.9850,1)" font-family="Liberation Sans" font-weight="bold" font-style="normal" font-size="39.00">4</text>
<text transform="translate(79.82,481.95) scale(0.9850,1)" font-family="Liberation Sans" font-weight="bold" font-style="normal" font-size="39.00">2</text>
<text transform="translate(80.21,646.06) scale(0.9850,1)" font-family="Liberation Sans" font-weight="bold" font-style="normal" font-size="39.00">0</text>
<text transform="translate(-1.37,47.36) scale(1.0303,1)" font-family="Liberation Sans" font-weight="bold" font-style="normal" font-size="63.82">a.</text>
<text transform="translate(223.08,59.50) scale(0.9406,1)" font-family="Liberation Sans" font-weight="bold" font-style="italic" font-size="50.43">TNFα</text>
<text transform="translate(59.89,482.47) rotate(-90) scale(0.9730,1)" font-family="Liberation Sans" font-weight="bold" font-style="normal" font-size="37.66">Copies/TBP</text>
<text transform="translate(154.71,685.22) scale(0.9775,1)" font-family="Liberation Sans" font-weight="bold" font-style="normal" font-size="37.89">EtOH</text>
<text transform="translate(321.53,685.22) scale(0.9787,1)" font-family="Liberation Sans" font-weight="bold" font-style="normal" font-size="37.89">TNBS</text>
<text transform="translate(363.38,137.26) scale(0.9156,1)" font-family="DejaVu Sans" font-weight="bold" font-style="normal" font-size="34.13" stroke="#000" stroke-width="0.5" stroke-linejoin="round">*</text>
<text transform="translate(323.00,200.00) scale(0.9605,1)" font-family="Liberation Sans" font-weight="normal" font-style="normal" font-size="34.71" stroke="#000" stroke-width="0.7" stroke-linejoin="round">##</text>
<text transform="translate(185.70,135.30) scale(0.9491,1)" font-family="Liberation Sans" font-weight="bold" font-style="normal" font-size="30.72">WT</text>
<text transform="translate(185.57,167.51) scale(0.9417,1)" font-family="Liberation Sans" font-weight="bold" font-style="normal" font-size="29.30">PAD2KO</text>
<text transform="translate(556.14,148.72) scale(0.9650,1)" font-family="Liberation Sans" font-weight="bold" font-style="normal" font-size="38.60">80</text>
<text transform="translate(556.14,272.02) scale(0.9650,1)" font-family="Liberation Sans" font-weight="bold" font-style="normal" font-size="38.60">60</text>
<text transform="translate(556.14,395.32) scale(0.9650,1)" font-family="Liberation Sans" font-weight="bold" font-style="normal" font-size="38.60">40</text>
<text transform="translate(556.14,518.62) scale(0.9650,1)" font-family="Liberation Sans" font-weight="bold" font-style="normal" font-size="38.60">20</text>
<text transform="translate(577.00,641.92) scale(0.9650,1)" font-family="Liberation Sans" font-weight="bold" font-style="normal" font-size="38.60">0</text>
<text transform="translate(478.54,46.90) scale(1.0084,1)" font-family="Liberation Sans" font-weight="bold" font-style="normal" font-size="64.66">b.</text>
<text transform="translate(720.23,58.97) scale(1.0164,1)" font-family="Liberation Sans" font-weight="bold" font-style="italic" font-size="47.77">IL-1β</text>
<text transform="translate(535.81,477.66) rotate(-90) scale(0.9954,1)" font-family="Liberation Sans" font-weight="bold" font-style="normal" font-size="36.60">Copies/TBP</text>
<text transform="translate(651.17,681.04) scale(1.0482,1)" font-family="Liberation Sans" font-weight="bold" font-style="normal" font-size="35.77">EtOH</text>
<text transform="translate(818.23,681.04) scale(1.0323,1)" font-family="Liberation Sans" font-weight="bold" font-style="normal" font-size="35.77">TNBS</text>
<text x="829.57" y="138.88" font-family="DejaVu Sans" font-weight="bold" font-style="normal" font-size="33.00" letter-spacing="3.70" stroke="#000" stroke-width="0.5" stroke-linejoin="round">****</text>
<text transform="translate(802.60,204.30) scale(0.9331,1)" font-family="Liberation Sans" font-weight="normal" font-style="normal" font-size="34.85" stroke="#000" stroke-width="0.7" stroke-linejoin="round">####</text>
<text transform="translate(1052.73,148.92) scale(0.9650,1)" font-family="Liberation Sans" font-weight="bold" font-style="normal" font-size="38.60">0.10</text>
<text transform="translate(1051.98,247.42) scale(0.9650,1)" font-family="Liberation Sans" font-weight="bold" font-style="normal" font-size="38.60">0.08</text>
<text transform="translate(1052.35,345.92) scale(0.9650,1)" font-family="Liberation Sans" font-weight="bold" font-style="normal" font-size="38.60">0.06</text>
<text transform="translate(1051.24,444.42) scale(0.9650,1)" font-family="Liberation Sans" font-weight="bold" font-style="normal" font-size="38.60">0.04</text>
<text transform="translate(1052.35,542.92) scale(0.9650,1)" font-family="Liberation Sans" font-weight="bold" font-style="normal" font-size="38.60">0.02</text>
<text transform="translate(1052.73,641.42) scale(0.9650,1)" font-family="Liberation Sans" font-weight="bold" font-style="normal" font-size="38.60">0.00</text>
<text transform="translate(971.56,47.05) scale(1.0221,1)" font-family="Liberation Sans" font-weight="bold" font-style="normal" font-size="64.55">c.</text>
<text transform="translate(1250.83,59.80) scale(0.9656,1)" font-family="Liberation Sans" font-weight="bold" font-style="italic" font-size="50.43">IL-12</text>
<text transform="translate(1033.01,477.66) rotate(-90) scale(0.9954,1)" font-family="Liberation Sans" font-weight="bold" font-style="normal" font-size="36.60">Copies/TBP</text>
<text transform="translate(1178.17,680.94) scale(1.0524,1)" font-family="Liberation Sans" font-weight="bold" font-style="normal" font-size="35.63">EtOH</text>
<text transform="translate(1345.94,680.94) scale(1.0227,1)" font-family="Liberation Sans" font-weight="bold" font-style="normal" font-size="35.63">TNBS</text>
<text transform="translate(1334.98,113.81) scale(0.9426,1)" font-family="Liberation Sans" font-weight="bold" font-style="normal" font-size="29.15">P=0.1515</text>
<text transform="translate(1338.80,187.80) scale(0.9260,1)" font-family="Liberation Sans" font-weight="normal" font-style="normal" font-size="35.00" stroke="#000" stroke-width="0.7" stroke-linejoin="round">###</text>
<text transform="translate(1577.78,142.82) scale(0.9650,1)" font-family="Liberation Sans" font-weight="bold" font-style="normal" font-size="38.60">0.08</text>
<text transform="translate(1578.15,266.52) scale(0.9650,1)" font-family="Liberation Sans" font-weight="bold" font-style="normal" font-size="38.60">0.06</text>
<text transform="translate(1577.04,390.22) scale(0.9650,1)" font-family="Liberation Sans" font-weight="bold" font-style="normal" font-size="38.60">0.04</text>
<text transform="translate(1578.15,513.92) scale(0.9650,1)" font-family="Liberation Sans" font-weight="bold" font-style="normal" font-size="38.60">0.02</text>
<text transform="translate(1578.53,637.62) scale(0.9650,1)" font-family="Liberation Sans" font-weight="bold" font-style="normal" font-size="38.60">0.00</text>
<text transform="translate(1495.51,47.10) scale(0.9971,1)" font-family="Liberation Sans" font-weight="bold" font-style="normal" font-size="64.93">d.</text>
<text transform="translate(1778.13,59.89) scale(0.9605,1)" font-family="Liberation Sans" font-weight="bold" font-style="italic" font-size="50.56">IL-23</text>
<text transform="translate(1560.25,473.99) rotate(-90) scale(0.9809,1)" font-family="Liberation Sans" font-weight="bold" font-style="normal" font-size="37.87">Copies/TBP</text>
<text transform="translate(1704.39,675.75) scale(1.0506,1)" font-family="Liberation Sans" font-weight="bold" font-style="normal" font-size="35.49">EtOH</text>
<text transform="translate(1872.23,675.75) scale(1.0310,1)" font-family="Liberation Sans" font-weight="bold" font-style="normal" font-size="35.49">TNBS</text>
<text transform="translate(1860.93,192.51) scale(0.9561,1)" font-family="Liberation Sans" font-weight="bold" font-style="normal" font-size="29.44">P=0.1129</text>
<text transform="translate(91.98,928.12) scale(0.9650,1)" font-family="Liberation Sans" font-weight="bold" font-style="normal" font-size="38.60">0.08</text>
<text transform="translate(92.35,1051.77) scale(0.9650,1)" font-family="Liberation Sans" font-weight="bold" font-style="normal" font-size="38.60">0.06</text>
<text transform="translate(91.24,1175.42) scale(0.9650,1)" font-family="Liberation Sans" font-weight="bold" font-style="normal" font-size="38.60">0.04</text>
<text transform="translate(92.35,1299.07) scale(0.9650,1)" font-family="Liberation Sans" font-weight="bold" font-style="normal" font-size="38.60">0.02</text>
<text transform="translate(92.73,1422.72) scale(0.9650,1)" font-family="Liberation Sans" font-weight="bold" font-style="normal" font-size="38.60">0.00</text>
<text transform="translate(1.44,847.05) scale(1.0228,1)" font-family="Liberation Sans" font-weight="bold" font-style="normal" font-size="64.91">e.</text>
<text transform="translate(290.03,862.45) scale(0.9733,1)" font-family="Liberation Sans" font-weight="bold" font-style="italic" font-size="49.78">IFNγ</text>
<text transform="translate(74.14,1259.49) rotate(-90) scale(0.9959,1)" font-family="Liberation Sans" font-weight="bold" font-style="normal" font-size="37.45">Copies/TBP</text>
<text transform="translate(219.21,1460.85) scale(1.0536,1)" font-family="Liberation Sans" font-weight="bold" font-style="normal" font-size="35.07">EtOH</text>
<text transform="translate(385.83,1460.85) scale(1.0509,1)" font-family="Liberation Sans" font-weight="bold" font-style="normal" font-size="35.07">TNBS</text>
<text transform="translate(375.23,956.20) scale(0.9515,1)" font-family="Liberation Sans" font-weight="bold" font-style="normal" font-size="29.58">P=0.3743</text>
<text transform="translate(601.68,919.72) scale(0.9650,1)" font-family="Liberation Sans" font-weight="bold" font-style="normal" font-size="38.60">400</text>
<text transform="translate(601.68,1045.32) scale(0.9650,1)" font-family="Liberation Sans" font-weight="bold" font-style="normal" font-size="38.60">300</text>
<text transform="translate(601.68,1171.02) scale(0.9650,1)" font-family="Liberation Sans" font-weight="bold" font-style="normal" font-size="38.60">200</text>
<text transform="translate(601.68,1296.62) scale(0.9650,1)" font-family="Liberation Sans" font-weight="bold" font-style="normal" font-size="38.60">100</text>
<text transform="translate(643.40,1422.22) scale(0.9650,1)" font-family="Liberation Sans" font-weight="bold" font-style="normal" font-size="38.60">0</text>
<text transform="translate(530.77,846.80) scale(1.0183,1)" font-family="Liberation Sans" font-weight="bold" font-style="normal" font-size="65.34">f.</text>
<text transform="translate(777.20,863.09) scale(0.9399,1)" font-family="Liberation Sans" font-weight="bold" font-style="italic" font-size="50.99">CXCL2</text>
<text transform="translate(581.99,1256.81) rotate(-90) scale(0.9769,1)" font-family="Liberation Sans" font-weight="bold" font-style="normal" font-size="38.62">Copies/TBP</text>
<text transform="translate(717.94,1462.15) scale(1.0838,1)" font-family="Liberation Sans" font-weight="bold" font-style="normal" font-size="35.07">EtOH</text>
<text transform="translate(889.63,1462.15) scale(1.0647,1)" font-family="Liberation Sans" font-weight="bold" font-style="normal" font-size="35.07">TNBS</text>
<text x="921.54" y="920.53" font-family="DejaVu Sans" font-weight="bold" font-style="normal" font-size="33.00" letter-spacing="3.70" stroke="#000" stroke-width="0.5" stroke-linejoin="round">**</text>
<text transform="translate(872.80,1006.70) scale(0.9102,1)" font-family="Liberation Sans" font-weight="normal" font-style="normal" font-size="36.32" stroke="#000" stroke-width="0.7" stroke-linejoin="round">####</text>
<text transform="translate(1139.01,930.92) scale(0.9650,1)" font-family="Liberation Sans" font-weight="bold" font-style="normal" font-size="38.60">0.6</text>
<text transform="translate(1137.52,1095.12) scale(0.9650,1)" font-family="Liberation Sans" font-weight="bold" font-style="normal" font-size="38.60">0.4</text>
<text transform="translate(1139.01,1259.32) scale(0.9650,1)" font-family="Liberation Sans" font-weight="bold" font-style="normal" font-size="38.60">0.2</text>
<text transform="translate(1139.01,1423.52) scale(0.9650,1)" font-family="Liberation Sans" font-weight="bold" font-style="normal" font-size="38.60">0.0</text>
<text transform="translate(1053.49,846.63) scale(1.0175,1)" font-family="Liberation Sans" font-weight="bold" font-style="normal" font-size="64.13">g.</text>
<text transform="translate(1313.43,865.70) scale(0.9711,1)" font-family="Liberation Sans" font-weight="bold" font-style="italic" font-size="50.00">PAD2</text>
<text transform="translate(1119.02,1260.97) rotate(-90) scale(0.9681,1)" font-family="Liberation Sans" font-weight="bold" font-style="normal" font-size="37.98">Copies/TBP</text>
<text transform="translate(1244.21,1462.15) scale(1.0536,1)" font-family="Liberation Sans" font-weight="bold" font-style="normal" font-size="35.07">EtOH</text>
<text transform="translate(1410.93,1462.15) scale(1.0509,1)" font-family="Liberation Sans" font-weight="bold" font-style="normal" font-size="35.07">TNBS</text>
<text transform="translate(1453.38,928.60) scale(0.9918,1)" font-family="DejaVu Sans" font-weight="bold" font-style="normal" font-size="31.09" stroke="#000" stroke-width="0.5" stroke-linejoin="round">*</text>
</svg></body></html>
